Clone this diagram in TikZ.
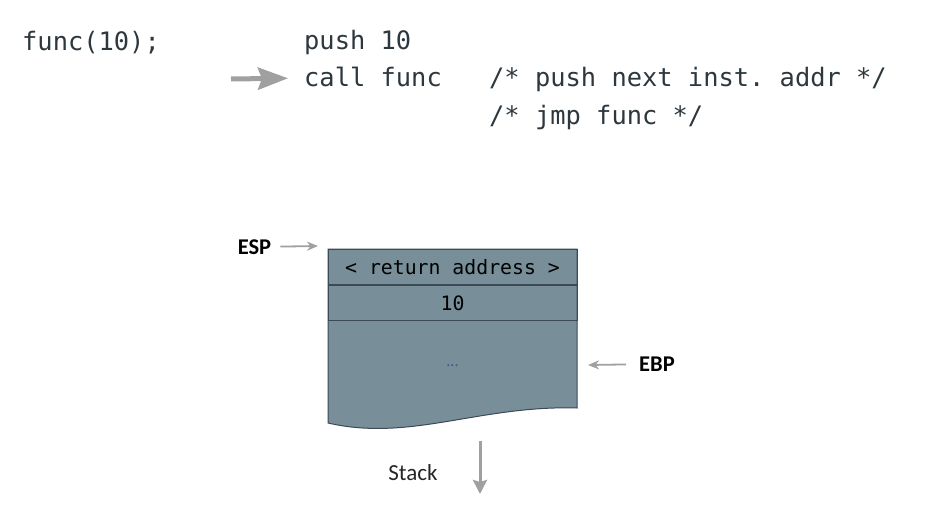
\documentclass[tikz,border=0pt]{standalone}
\usepackage{fontspec}
\setmainfont{Carlito}
\setmonofont{DejaVu Sans Mono}
\usepackage{tikz}
\usetikzlibrary{positioning,arrows.meta}
\definecolor{mytext}{RGB}{45,55,62}
\definecolor{mygray}{RGB}{160,160,160}
\definecolor{mystack}{RGB}{120,142,153}
\definecolor{myedge}{RGB}{60,74,85}
\definecolor{mydots}{RGB}{70,80,140}

\begin{document}
\begin{tikzpicture}[x=1pt,y=-1pt,
  every node/.style={inner sep=0pt,text=mytext},
  code/.style={anchor=base west,font=\fontsize{25.4}{30}\ttfamily},
  cell/.style={draw=myedge,line width=1pt,minimum width=249pt,minimum height=35pt,
    font=\fontsize{19.8}{24}\ttfamily,text=black},
  reg/.style={font=\fontsize{22.5}{27}\selectfont\bfseries,text=black},
  ptr/.style={-{Stealth[length=11pt,width=9pt]},mygray,line width=1.8pt},
  bigptr/.style={-{Stealth[length=30pt,width=22pt,inset=4pt]},mygray,line width=5pt}
]
\useasboundingbox (0,0) rectangle (930,506);

% the source line
\node[code] (src) at (22,50) {func(10);};

% the assembly lines
\node[code] (push) at (304,49) {push 10};
\node[code] (call) at (304,86.7) {call func};
\node[code] (c1) at (489,86.7) {/* push next inst. addr */};
\node[code] (c2) at (489,124.4) {/* jmp func */};

% the current instruction
\coordinate (pc) at (231,79);
\draw[bigptr,shorten >=16pt] (pc) -- (call);

% the stack
\draw[myedge,fill=mystack,line width=1pt] (328,249) -- (577,249) -- (577,408)
  .. controls (480,405) and (410,442) .. (328,423) -- cycle;
\node[cell,anchor=north] (ret) at (452.5,249) {< return address >};
\node[cell,below=0pt of ret] (arg) {10};
\node[font=\fontsize{16}{18}\selectfont,text=mydots] (rest) at (452.5,366) {...};

% the registers
\node[reg] (esp) at (254.5,247) {ESP};
\coordinate (esptip) at (318,246);
\draw[ptr,shorten <=9pt] (esp) -- (esptip);
\node[reg] (ebp) at (657,364) {EBP};
\coordinate (ebptip) at (588,365);
\draw[ptr,shorten <=13pt] (ebp) -- (ebptip);

% the direction of growth
\node[font=\fontsize{23}{28}\selectfont,text=black!85] (stack) at (413,473) {Stack};
\coordinate (grow1) at (480,441);
\coordinate (grow2) at (480,494);
\draw[-{Stealth[length=14pt,width=14pt,inset=2pt]},mygray,line width=3pt] (grow1) -- (grow2);
\end{tikzpicture}
\end{document}
